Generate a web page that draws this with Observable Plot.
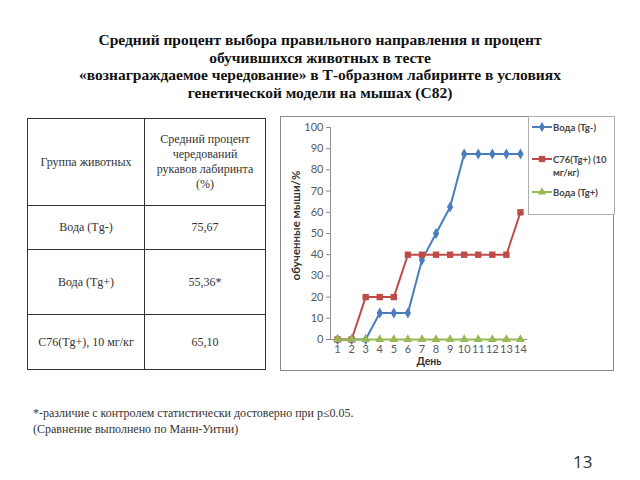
<!DOCTYPE html>
<html><head><meta charset="utf-8">
<script src="https://cdn.jsdelivr.net/npm/d3@7"></script>
<script src="https://cdn.jsdelivr.net/npm/@observablehq/plot@0.6"></script>
<style>
body{margin:0;width:640px;height:480px;background:#fff;position:relative;overflow:hidden;}
.abs{position:absolute;}
#title{left:0;width:640px;text-align:center;font:bold 15.5px "Liberation Serif","Times New Roman",serif;line-height:17.5px;color:#111;}
#tbl{left:27px;top:118px;border-collapse:collapse;font:12px "Liberation Serif",serif;color:#333;}
#tbl td{border:1px solid #333;text-align:center;padding:0 4px;}
#frame{left:280px;top:116px;width:332px;height:253px;border:1px solid #8a8a8a;}
#chart{left:281px;top:117px;}
#legend{left:528px;top:116px;width:85px;height:97px;border:1px solid #b0b0b0;font:bold 9.5px Lato,sans-serif;color:#444;background:#fff;}
.li{position:absolute;left:2px;display:flex;align-items:flex-start;}
.li svg{flex:none;margin-top:1px;}
#note{left:33px;top:405px;font:12px "Liberation Serif",serif;line-height:16px;color:#333;}
#page{left:573px;top:450px;font:17px "Open Sans",sans-serif;color:#333;}
</style></head>
<body>
<div id="title" class="abs" style="top:31px">Средний процент выбора правильного направления и процент<br>обучившихся животных в тесте<br>«вознаграждаемое чередование» в Т-образном лабиринте в условиях<br>генетической модели на мышах (С82)</div>
<table id="tbl" class="abs"></table>
<div id="frame" class="abs"></div>
<div id="chart" class="abs"></div>
<div id="legend" class="abs"></div>
<div id="note" class="abs">*-различие с контролем статистически достоверно при p≤0.05.<br>(Сравнение выполнено по Манн-Уитни)</div>
<div id="page" class="abs">13</div>
<script>
// Table data
const tableHeader = ["Группа животных", "Средний процент чередований рукавов лабиринта (%)"];
const groups = ["Вода (Tg-)", "Вода (Tg+)", "С76(Tg+), 10 мг/кг"];
const groupValues = ["75,67", "55,36*", "65,10"];

// Chart data
const days = [1,2,3,4,5,6,7,8,9,10,11,12,13,14];
const vodaMinus = [0,0,0,12.5,12.5,12.5,37.5,50,62.5,87.5,87.5,87.5,87.5,87.5];
const c76 = [0,0,20,20,20,40,40,40,40,40,40,40,40,60];
const vodaPlus = [0,0,0,0,0,0,0,0,0,0,0,0,0,0];
const seriesNames = ["Вода (Tg-)", "С76(Tg+) (10 мг/кг)", "Вода (Tg+)"];
const seriesColors = ["#4a7ebb", "#be4b48", "#98b954"];
const seriesSymbols = ["diamond", "square", "triangle"];
const yTicks = [0,10,20,30,40,50,60,70,80,90,100];

// build table
const tbl = document.getElementById("tbl");
const rowHeights = [87, 44, 65, 55];
const hr = tbl.insertRow();
hr.style.height = rowHeights[0] + "px";
tableHeader.forEach((t, i) => {
  const c = hr.insertCell(); c.textContent = t;
  c.style.width = (i ? 104 : 108) + "px";
  if (i) c.style.padding = "0 8px";
});
groups.forEach((g, i) => {
  const r = tbl.insertRow(); r.style.height = rowHeights[i+1] + "px";
  r.insertCell().textContent = g; r.insertCell().textContent = groupValues[i];
});

// chart
const allSeries = [vodaMinus, c76, vodaPlus];
const data = allSeries.flatMap((vals, s) => days.map((d, i) => ({day: d, value: vals[i], series: seriesNames[s]})));
const marks = [
  Plot.ruleX([0.5], {stroke: "#8c8c8c"}),
  Plot.ruleY([0], {stroke: "#8c8c8c"}),
  Plot.axisY({ticks: yTicks, tickSize: 4, tickPadding: 3, stroke: "#8c8c8c", label: null, fill: "#595959"}),
  Plot.axisX({ticks: days, tickSize: 0, tickPadding: 6, label: null, fill: "#595959"}),
  Plot.text(["обученные мыши/%"], {frameAnchor: "left", textAnchor: "middle", rotate: -90, dx: -34, dy: -8, text: d => d, fontWeight: "bold", fontSize: 11.5, fill: "#333"}),
  Plot.text(["День"], {frameAnchor: "bottom", dy: 25, text: d => d, fontWeight: "bold", fontSize: 10.5, fill: "#333"})
];
seriesNames.forEach((name, s) => {
  const sd = data.filter(d => d.series === name);
  marks.push(Plot.line(sd, {x: "day", y: "value", stroke: seriesColors[s], strokeWidth: 2}));
  marks.push(Plot.dot(sd, {x: "day", y: "value", fill: seriesColors[s], stroke: "none", symbol: () => seriesSymbols[s], r: s === 1 ? 3.6 : 3.3}));
});
const chart = Plot.plot({
  width: 332, height: 253,
  marginLeft: 49, marginRight: 86, marginTop: 10, marginBottom: 31,
  x: {domain: [0.5, 14.5], axis: null},
  y: {domain: [0, 100], axis: null},
  style: {fontFamily: "Lato, sans-serif", fontSize: "11px", color: "#595959", background: "transparent"},
  marks
});
document.getElementById("chart").appendChild(chart);

// legend
const lg = document.getElementById("legend");
const legendTops = [4, 36, 69];
seriesNames.forEach((name, s) => {
  const el = document.createElement("div");
  el.className = "li"; el.style.top = legendTops[s] + "px";
  const sym = d3.symbol(s === 0 ? d3.symbolDiamond : s === 1 ? d3.symbolSquare : d3.symbolTriangle, s === 1 ? 40 : 30)();
  el.innerHTML = `<svg width="22" height="10"><line x1="1" x2="21" y1="5" y2="5" stroke="${seriesColors[s]}" stroke-width="2"/><path transform="translate(11,5)" d="${sym}" fill="${seriesColors[s]}"/></svg><span style="width:60px;line-height:13px">${name}</span>`;
  lg.appendChild(el);
});
</script>
</body></html>
